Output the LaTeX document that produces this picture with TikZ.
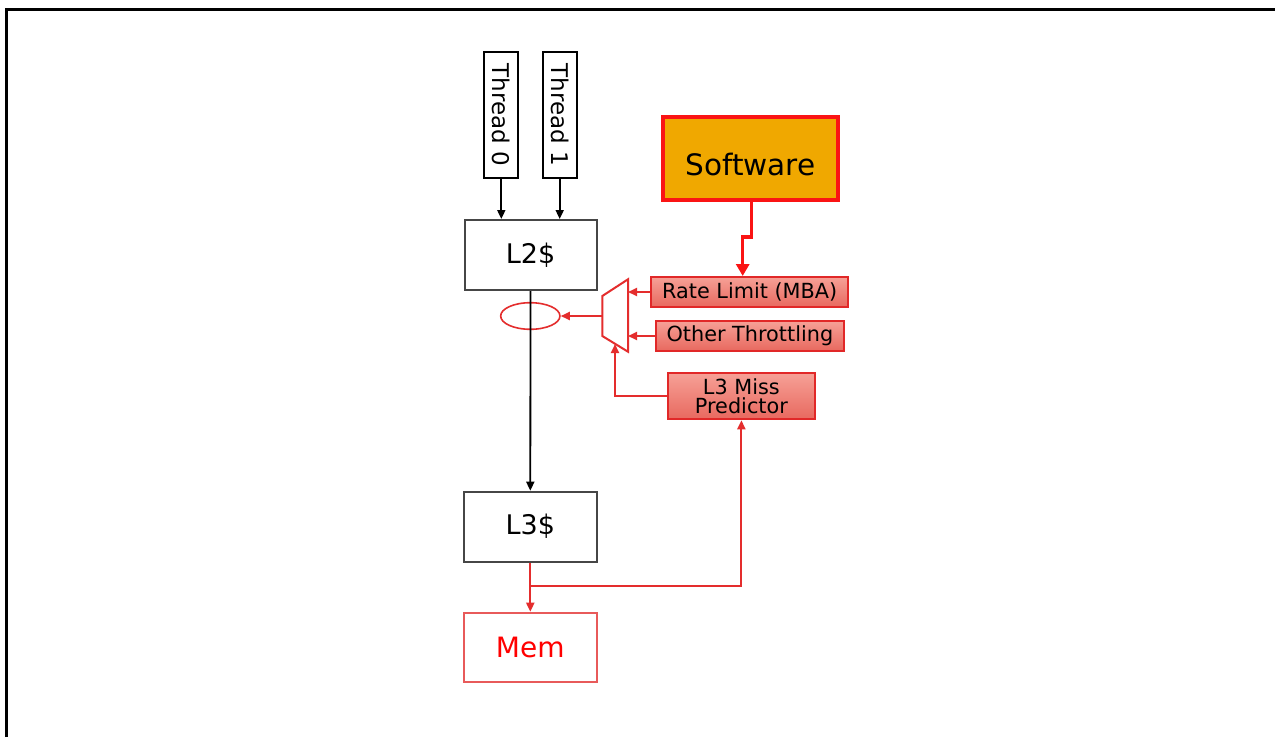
\documentclass[tikz,border=0pt]{standalone}
\usepackage{fontspec}
\setmainfont{DejaVu Sans}
\usetikzlibrary{arrows.meta,shapes.geometric,calc}
\definecolor{swfill}{RGB}{240,168,0}
\definecolor{swred}{RGB}{250,20,20}
\definecolor{boxred}{RGB}{225,40,40}
\definecolor{salmon}{RGB}{241,133,122}
\definecolor{salmonlt}{RGB}{246,160,150}
\definecolor{salmondk}{RGB}{232,105,95}
\definecolor{lnred}{RGB}{228,45,45}
\definecolor{memred}{RGB}{232,90,90}
\definecolor{gbox}{RGB}{70,70,70}
\begin{document}
\begin{tikzpicture}[x=1pt,y=-1pt,
  box/.style={draw=gbox,line width=2pt,minimum width=132pt,minimum height=70pt,inner sep=0pt,font=\fontsize{27}{30}\selectfont},
  thr/.style={draw=black,line width=2pt,rotate=-90,minimum width=126.6pt,minimum height=34pt,inner sep=0pt,font=\fontsize{23}{26}\selectfont},
  ctl/.style={draw=boxred,line width=2pt,top color=salmonlt,bottom color=salmondk,inner sep=0pt,font=\fontsize{20.8}{18.5}\selectfont,align=center},
  blk/.style={draw=black,line width=1.8pt,-{Triangle[length=9pt,width=8pt]}},
  rln/.style={draw=lnred,line width=2pt},
  rar/.style={rln,-{Triangle[length=9pt,width=8pt]}}
]
\useasboundingbox (0,0) rectangle (1275,737);
\fill[white] (0,0) rectangle (1275,737);
\draw[line width=3pt] (6,737) -- (6,9) -- (1275,9);

% thread boxes
\node[thr] (t0) at (501.3,115) {Thread 0};
\node[thr] (t1) at (559.7,115) {Thread 1};

% caches
\node[box] (l2) at (530.5,255) {L2\$};
\node[box,minimum width=132.7pt] (l3) at (530.3,526.7) {L3\$};
\node[box,draw=memred,minimum width=132.7pt,minimum height=69pt,text=red,font=\fontsize{28}{30}\selectfont] (mem) at (530.3,647.2) {Mem};

% software
\node[draw=swred,line width=4pt,fill=swfill,minimum width=175.6pt,minimum height=82.7pt,inner sep=0pt,font=\fontsize{29.5}{32}\selectfont] (sw) at (750.5,158.7) {\raisebox{-16.5pt}[0pt][0pt]{Software}};

% control boxes
\node[ctl,minimum width=197pt,minimum height=30pt] (rate) at (749.7,292) {Rate Limit (MBA)};
\node[ctl,minimum width=188.3pt,minimum height=29.7pt] (oth) at (749.9,336) {Other Throttling};
\node[ctl,minimum width=147.3pt,minimum height=46pt] (miss) at (741.4,396.3) {L3 Miss\\Predictor};

% mux trapezoid
\coordinate (mA) at (628,279.3);
\coordinate (mB) at (602.3,296);
\coordinate (mC) at (602.3,336);
\coordinate (mD) at (628,351.7);
\coordinate (mout) at (602.3,316);
\coordinate (mbot) at (615,344);
\draw[rln,line join=miter] (mA) -- (mB) -- (mC) -- (mD) -- cycle;

% ellipse
\node[draw=lnred,line width=1.6pt,ellipse,minimum width=59.3pt,minimum height=26.6pt,inner sep=0pt] (ell) at (530.3,316) {};

% connectors
\draw[blk] (t0.east) -- (t0.east |- l2.north);
\draw[blk] (t1.east) -- (t1.east |- l2.north);
\draw[blk] (l2.south) -- (l3.north);

\coordinate (j1) at (751.7,237);
\coordinate (j2) at (742.7,237);
\draw[draw=swred,line width=3.5pt,-{Triangle[length=12pt,width=13pt]}] (sw.south -| j1) -- (j1) -- (j2) -- (j2 |- rate.north);

\draw[rar] (rate.west) -- (rate.west -| mA);
\draw[rar] (oth.west) -- (oth.west -| mA);
\draw[rar] (miss.west) -| (mbot);
\draw[rar] (mout) -- (ell.east);

\coordinate (br) at (530.3,585.7);
\draw[rar] (l3.south) -- (mem.north);
\draw[rar] (br) -| (miss.south);
\end{tikzpicture}
\end{document}
